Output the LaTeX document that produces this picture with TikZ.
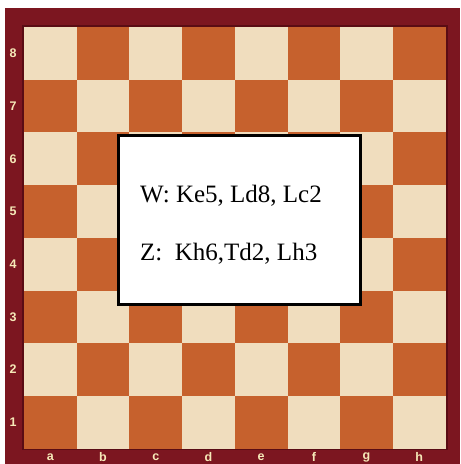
\documentclass[tikz,border=0pt]{standalone}
\usepackage{fontspec}
\setmainfont{Liberation Serif}
\newfontfamily\labelfont{Liberation Sans}
\usetikzlibrary{positioning}
\definecolor{bRim}{HTML}{7C1620}
\definecolor{bRimDark}{HTML}{5A0C14}
\definecolor{sqLight}{HTML}{F0DDBE}
\definecolor{sqDark}{HTML}{C6612D}
\definecolor{lblInk}{HTML}{F6E9B8}
\tikzset{
  rim/.style={fill=bRim, draw=none},
  sqlight/.style={fill=sqLight},
  sqdark/.style={fill=sqDark},
  coordlbl/.style={font=\labelfont\bfseries\fontsize{12.5}{14}\selectfont,
                   text=lblInk, inner sep=0pt},
  infobox/.style={draw=black, line width=3pt, fill=white,
                  minimum width=242pt, minimum height=169pt, inner sep=0pt},
  posline/.style={font=\fontsize{25}{30}\selectfont, anchor=base west,
                  inner sep=0pt},
}

\begin{document}
\begin{tikzpicture}[x=1pt, y=-1pt]
\useasboundingbox (0,0) rectangle (461,464);

% wooden rim of the board
\fill[rim] (5,8) rectangle (460,464);
\draw[bRimDark, line width=1.5pt] (23,26) rectangle (447,449);

% the 64 squares, a8 top left
\def\sq{52.7}
\foreach \c in {0,...,7}
  \foreach \r in {0,...,7}{
    \pgfmathtruncatemacro\odd{mod(\c+\r,2)}
    \ifnum\odd=0 \def\sty{sqlight}\else\def\sty{sqdark}\fi
    \fill[\sty] ({24+\c*\sq},{27+\r*\sq}) rectangle +(\sq,\sq);
  }

% ranks and files
\foreach \n in {1,...,8}
  \node[coordlbl] (rank\n) at (13,{27+(8.5-\n)*\sq}) {\n};
\foreach \f [count=\i from 0] in {a,...,h}
  \node[coordlbl] (file\f) at ({24+(\i+0.5)*\sq},457) {\f};

% the position
\node[infobox] (info) at (239.5,220) {};
\node[posline] (wit) at (140,202) {W: Ke5, Ld8, Lc2};
\node[posline] (zwart) at (140,260) {Z:\ \ Kh6,Td2, Lh3};

\end{tikzpicture}
\end{document}
